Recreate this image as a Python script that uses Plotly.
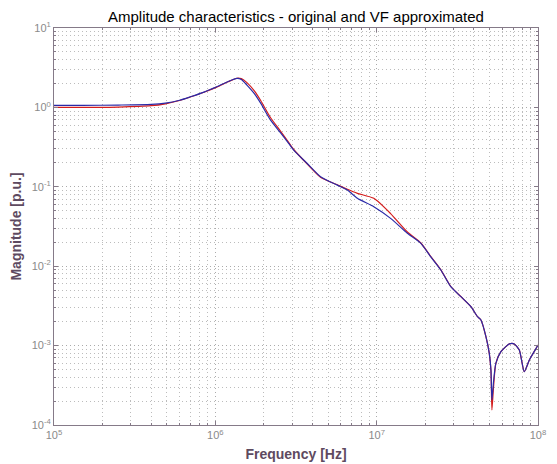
import plotly.graph_objects as go

# Frequency grid [Hz]
freq = [1e5, 1.5e5, 2.5e5, 4.0e5, 4.9e5, 6.0e5, 7.0e5, 8.5e5, 1.02e6, 1.2e6, 1.36e6, 1.45e6,
        1.57e6, 1.75e6, 1.91e6, 2.2e6, 2.54e6, 2.84e6, 3.06e6, 3.7e6, 4.49e6, 5.7e6, 6.58e6,
        7.59e6, 9.6e6, 1.22e7, 1.55e7, 1.88e7, 2.16e7, 2.5e7, 2.88e7, 3.33e7, 3.84e7, 4.22e7,
        4.43e7, 4.76e7, 4.99e7, 5.11e7, 5.18e7, 5.3e7, 5.48e7, 5.89e7, 6.64e7, 7.13e7, 7.66e7,
        8.22e7, 8.84e7, 9.72e7, 1e8]

# Original response magnitude [p.u.]
mag_original = [1.00, 1.00, 1.01, 1.05, 1.11, 1.22, 1.35, 1.55, 1.80, 2.10, 2.33, 2.30,
                2.05, 1.60, 1.22, 0.74, 0.50, 0.365, 0.295, 0.195, 0.132, 0.106, 0.093,
                0.0828, 0.0716, 0.046, 0.027, 0.0196, 0.0133, 0.0090, 0.00555, 0.00413, 0.00309, 0.00231,
                0.0021, 0.00129, 0.0008, 0.00048, 0.000155, 0.0003, 0.000598, 0.000838, 0.00105, 0.00105, 0.00088,
                0.00047, 0.00066, 0.00092, 0.00102]

# Vector-fitting approximation magnitude [p.u.]
mag_vf = [1.06, 1.06, 1.07, 1.09, 1.13, 1.23, 1.36, 1.56, 1.82, 2.12, 2.32, 2.25,
          1.91, 1.48, 1.13, 0.69, 0.477, 0.356, 0.29, 0.198, 0.134, 0.105, 0.091,
          0.0716, 0.0561, 0.040, 0.026, 0.0194, 0.0132, 0.00895, 0.00552, 0.00413, 0.00309, 0.00231,
          0.0021, 0.00129, 0.0008, 0.00049, 0.000207, 0.00035, 0.000598, 0.000838, 0.00105, 0.00105, 0.00088,
          0.00047, 0.00066, 0.00092, 0.00102]

x_tickvals = [1e5, 1e6, 1e7, 1e8]
x_ticktext = ["10<sup>5</sup>", "10<sup>6</sup>", "10<sup>7</sup>", "10<sup>8</sup>"]
y_tickvals = [1e-4, 1e-3, 1e-2, 1e-1, 1e0, 1e1]
y_ticktext = ["10<sup>-4</sup>", "10<sup>-3</sup>", "10<sup>-2</sup>", "10<sup>-1</sup>", "10<sup>0</sup>", "10<sup>1</sup>"]

fig = go.Figure()
fig.add_trace(go.Scatter(x=freq, y=mag_original, mode="lines", name="original",
                         line=dict(color="#d41c1c", width=1.2, shape="spline", smoothing=0.6)))
fig.add_trace(go.Scatter(x=freq, y=mag_vf, mode="lines", name="VF approximated",
                         line=dict(color="#2a2aa8", width=1.2, shape="spline", smoothing=0.6)))

axis_common = dict(
    type="log", automargin=False,
    showline=True, linecolor="#857a88", linewidth=1, mirror="ticks",
    ticks="inside", ticklen=4, tickcolor="#857a88",
    showgrid=True, gridcolor="#ababab", griddash="1px,3px", gridwidth=1,
    tickfont=dict(family="Liberation Sans, Arial, sans-serif", size=11, color="#8a8a8a"),
    zeroline=False,
    minor=dict(dtick="D1", showgrid=True, gridcolor="#bcbcbc", griddash="1px,3px", gridwidth=1,
               ticks="inside", ticklen=2, tickcolor="#857a88"),
)

fig.update_layout(
    width=557, height=464,
    margin=dict(l=46, r=27, t=20, b=47),
    paper_bgcolor="white", plot_bgcolor="white",
    showlegend=False,
    title=dict(text="Amplitude characteristics - original and VF approximated",
               x=0.517, xanchor="center", y=0.981, yanchor="middle",
               font=dict(family="Liberation Sans, Arial, sans-serif", size=15, color="#000000")),
    xaxis=dict(axis_common, range=[5, 8], tickvals=x_tickvals, ticktext=x_ticktext,
               title=dict(text="<b>Frequency [Hz]</b>", standoff=8,
                          font=dict(family="Liberation Sans, Arial, sans-serif", size=14, color="#5e4a60"))),
    yaxis=dict(axis_common, range=[-4, 1], tickvals=y_tickvals, ticktext=y_ticktext,
               title=dict(text="<b>Magnitude [p.u.]</b>", standoff=6,
                          font=dict(family="Liberation Sans, Arial, sans-serif", size=14, color="#5e4a60"))),
)

fig.write_html("out.html")
